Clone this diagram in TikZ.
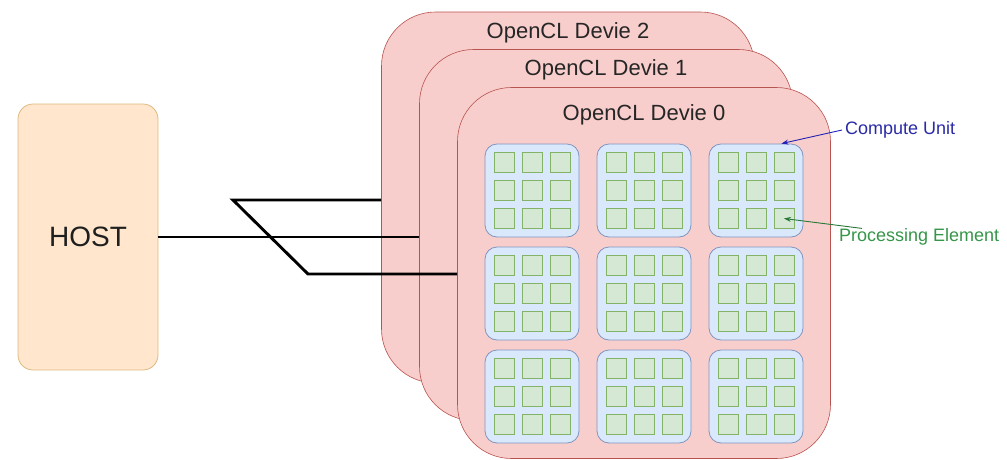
\documentclass[tikz,border=0pt]{standalone}
\usepackage{fontspec}
\setmainfont{Liberation Sans}
\usetikzlibrary{arrows.meta,calc}
\definecolor{devfill}{HTML}{F8CECC}
\definecolor{devline}{HTML}{B85450}
\definecolor{hostfill}{HTML}{FFE6CC}
\definecolor{hostline}{HTML}{DDBB80}
\definecolor{cufill}{HTML}{DAE8FC}
\definecolor{culine}{HTML}{7F95BF}
\definecolor{pefill}{HTML}{D5E8D4}
\definecolor{peline}{HTML}{82B366}
\definecolor{cublue}{HTML}{2A2AA8}
\definecolor{pegreen}{HTML}{359548}
\begin{document}
\begin{tikzpicture}[x=1pt,y=-1pt,
  device/.style={draw=devline, fill=devfill, line width=0.6pt, rounded corners=54pt,
    minimum width=373pt, minimum height=371pt, inner sep=0pt},
  devtitle/.style={font=\fontsize{22}{26}\selectfont, text=black!85, inner sep=0pt},
  hostbox/.style={draw=hostline, fill=hostfill, line width=0.8pt, rounded corners=15pt,
    minimum width=140pt, minimum height=266pt, inner sep=0pt,
    font=\fontsize{28}{32}\selectfont, text=black!88},
  cu/.style={draw=culine, fill=cufill, line width=0.8pt, rounded corners=12pt,
    minimum width=94pt, minimum height=93pt, inner sep=0pt},
  pe/.style={draw=peline, fill=pefill, line width=0.7pt,
    minimum width=20pt, minimum height=20pt, inner sep=0pt},
  link/.style={line width=2.9pt, black},
  note/.style={font=\fontsize{18}{22}\selectfont, inner sep=0pt},
  pointer/.style={line width=0.9pt, -{Stealth[length=7pt,width=5pt]}}
]
\useasboundingbox (0,0) rectangle (1007,459);

% host
\node[hostbox] (host) at (88,237) {HOST};

% stacked OpenCL devices
\node[device] (dev2) at (568,197.5) {};
\node[devtitle] (t2) at (568,33) {OpenCL Devie 2};
\node[device] (dev1) at (606,235) {};
\node[devtitle] (t1) at (606,70) {OpenCL Devie 1};
\node[device] (dev0) at (644,273) {};
\node[devtitle] (t0) at (644,115) {OpenCL Devie 0};

% compute units with their processing elements
\foreach \r/\cy in {1/190.5,2/293.5,3/396.5}{
  \foreach \c/\cx in {1/532,2/644,3/756}{
    \node[cu] (cu\r\c) at (\cx,\cy) {};
    \foreach \i/\dy in {1/-28,2/0,3/28}{
      \foreach \j/\dx in {1/-28,2/0,3/28}{
        \node[pe] (pe\r\c\i\j) at (\cx+\dx,\cy+\dy) {};
      }
    }
  }
}

% host links
\coordinate (bendA) at (233,200);
\coordinate (bendB) at (308,274);
\draw[link] (host.east) -- (host.east -| dev1.west);
\draw[link, line join=miter] (bendA -| dev2.west) -- (bendA) -- (bendB) -- (bendB -| dev0.west);

% annotations
\node[note, text=cublue, anchor=west] (culabel) at (845,130) {Compute Unit};
\node[note, text=pegreen, anchor=west] (pelabel) at (839,237) {Processing Element};
\coordinate (cuTip) at ($(cu13.north east)+(-22,0)$);
\coordinate (peTail) at ($(pelabel.north west)+(23,0)$);
\draw[pointer, draw=cublue!80!blue] ([xshift=-3pt]culabel.west) -- (cuTip);
\draw[pointer, draw=pegreen!80!black] (peTail) -- (pe1333.center);
\end{tikzpicture}
\end{document}
